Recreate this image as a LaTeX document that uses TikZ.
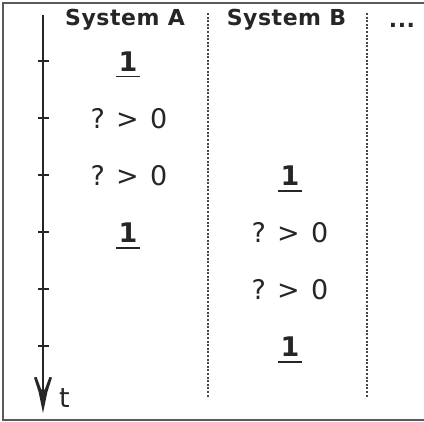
\documentclass[tikz,border=0pt]{standalone}
\usepackage{fontspec}
\setmainfont{DejaVu Sans}
\newfontfamily\hdfont{DejaVu Sans}[LetterSpace=2.5]
\usetikzlibrary{arrows.meta,calc}
\definecolor{ink}{HTML}{262626}
\definecolor{frm}{HTML}{5A5A5A}
\begin{document}
\begin{tikzpicture}[x=1pt,y=-1pt,
  hd/.style={inner sep=0pt,anchor=base,text=ink,font=\hdfont\bfseries\fontsize{22}{22}\selectfont},
  val/.style={inner sep=0pt,anchor=base,text=ink,font=\fontsize{27}{27}\selectfont},
  one/.style={inner sep=0pt,anchor=base,text=ink,font=\bfseries\fontsize{27}{27}\selectfont},
  tickmark/.style={draw=ink,line width=2pt},
  sep/.style={draw=ink!85,line width=1.4pt,dash pattern=on 2pt off 1.6pt},
  ul/.style={draw=ink,line width=1.8pt}]
\useasboundingbox (0,0) rectangle (424,422);
\draw[frm,line width=2.2pt] (3.2,421.1) -- (3.2,3.2) -- (432,3.2);
\draw[frm,line width=2.2pt] (2.1,420) -- (432,420);
% headers
\node[hd] (hA) at (125,26) {System A};
\node[hd] (hB) at (286.5,26) {System B};
\node[hd] (hC) at (402,27.5) {...};
% separators
\coordinate (s1t) at (208,13); \coordinate (s1b) at (208,397);
\coordinate (s2t) at (367,13); \coordinate (s2b) at (367,397);
\draw[sep] (s1t) -- (s1b);
\draw[sep] (s2t) -- (s2b);
% time axis
\coordinate (at) at (43,15); \coordinate (ab) at (43,396);
\draw[ink,line width=2.2pt] (at) -- (ab);
\fill[ink] (43,413) -- (38.6,392) -- (34,377.5) -- (36.6,377) -- (41.4,390)
  -- (43,388) -- (44.6,390) -- (49.4,377) -- (52,377.5) -- (47.4,392) -- cycle;
\node[val,anchor=base west] (t) at (59,408) {t};
\foreach \k/\y in {1/61.5,2/118.5,3/175.5,4/232.5,5/289.5,6/346.5}{
  \coordinate (tl\k) at (38,\y); \coordinate (tr\k) at (49,\y);
  \draw[tickmark] (tl\k) -- (tr\k);
}
% values
\node[one] (a1) at (128,71.5) {1};
\node[val] (a2) at (129,129) {?\hspace{0.42em}>\hspace{0.42em}0};
\node[val] (a3) at (129,186) {?\hspace{0.42em}>\hspace{0.42em}0};
\node[one] (a4) at (128,243) {1};
\node[one] (b3) at (290,186) {1};
\node[val] (b4) at (290,243) {?\hspace{0.42em}>\hspace{0.42em}0};
\node[val] (b5) at (290,300) {?\hspace{0.42em}>\hspace{0.42em}0};
\node[one] (b6) at (290,357) {1};
\foreach \n in {a1,a4,b3,b6}{
  \draw[ul] ([xshift=-2.5pt,yshift=-5pt]\n.base west) -- ([xshift=2.5pt,yshift=-5pt]\n.base east);
}
\end{tikzpicture}
\end{document}
